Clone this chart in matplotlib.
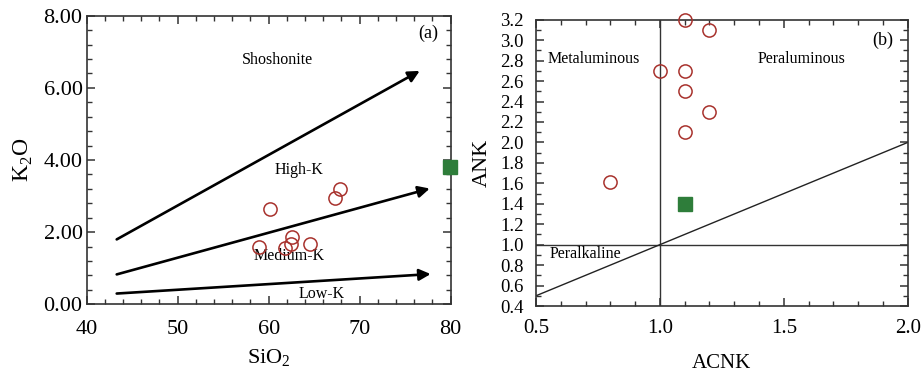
import numpy as np
import matplotlib
matplotlib.use("Agg")
import matplotlib.pyplot as plt
from matplotlib.ticker import MultipleLocator, FormatStrFormatter

plt.rcParams.update({
    "font.family": "Liberation Serif",
    "mathtext.fontset": "custom", "mathtext.rm": "Liberation Serif",
    "xtick.direction": "in", "ytick.direction": "in",
    "xtick.top": True, "ytick.right": True,
})

# ---- panel (a): K2O vs SiO2 ----
sio2 = [60.1, 67.3, 67.8, 58.9, 61.8, 62.4, 62.6, 64.5]
k2o = [2.63, 2.94, 3.20, 1.60, 1.57, 1.66, 1.88, 1.66]
sio2_ref, k2o_ref = [79.9], [3.82]
# series boundaries (start, end)
bound_x = [(43.3, 76.6), (43.3, 77.7), (43.3, 77.8)]
bound_y = [(1.80, 6.47), (0.83, 3.21), (0.30, 0.84)]
labels_a = ["Shoshonite", "High-K", "Medium-K", "Low-K"]
labels_a_xy = [(61.0, 6.77), (63.3, 3.72), (62.3, 1.34), (65.8, 0.30)]

# ---- panel (b): ANK vs ACNK ----
acnk = [1.1, 1.2, 1.0, 1.1, 1.1, 1.2, 1.1, 0.8]
ank = [3.2, 3.1, 2.7, 2.7, 2.5, 2.3, 2.1, 1.61]
acnk_ref, ank_ref = [1.1], [1.40]
labels_b = ["Metaluminous", "Peraluminous", "Peralkaline"]
labels_b_xy = [(0.735, 2.82), (1.57, 2.82), (0.70, 0.91)]

RED = "#A8322D"
GREEN = "#2E7D3A"

fig = plt.figure(figsize=(9.22, 3.73), dpi=100)
ax1 = fig.add_axes([0.094, 0.184, 0.3948, 0.774])
ax2 = fig.add_axes([0.5813, 0.1796, 0.4032, 0.7674])

for ax in (ax1, ax2):
    for s in ax.spines.values():
        s.set_linewidth(1.2)
        s.set_color("#333333")
    ax.tick_params(which="major", length=6, width=1.1, color="#333333")
    ax.tick_params(which="minor", length=3.5, width=1.0, color="#333333")

# panel (a)
for (x0, x1), (y0, y1) in zip(bound_x, bound_y):
    ax1.annotate("", xy=(x1, y1), xytext=(x0, y0),
                 arrowprops=dict(arrowstyle="-|>", color="black", lw=1.9,
                                 mutation_scale=17, shrinkA=0, shrinkB=0))
ax1.plot(sio2, k2o, "o", ms=9.5, mfc="none", mec=RED, mew=1.1, zorder=4)
ax1.plot(sio2_ref, k2o_ref, "s", ms=9.5, color=GREEN, clip_on=False, zorder=5)
for t, (x, y) in zip(labels_a, labels_a_xy):
    ax1.text(x, y, t, ha="center", va="center", fontsize=11.5)
ax1.text(77.5, 7.5, "(a)", ha="center", va="center", fontsize=13)
ax1.set_xlim(40, 80)
ax1.set_ylim(0, 8)
ax1.xaxis.set_major_locator(MultipleLocator(10))
ax1.xaxis.set_minor_locator(MultipleLocator(2))
ax1.yaxis.set_major_locator(MultipleLocator(2))
ax1.yaxis.set_minor_locator(MultipleLocator(0.4))
ax1.yaxis.set_major_formatter(FormatStrFormatter("%.2f"))
ax1.tick_params(labelsize=16)
ax1.tick_params(axis="x", pad=11)
ax1.tick_params(axis="y", pad=3)
ax1.set_xlabel("SiO$_2$", fontsize=16, labelpad=6)
ax1.set_ylabel("K$_2$O", fontsize=17, labelpad=6)

# panel (b)
ax2.axvline(1.0, color="#333333", lw=1.0)
ax2.axhline(1.0, color="#333333", lw=1.0)
ax2.plot([0.5, 2.0], [0.5, 2.0], color="#222222", lw=1.0)
ax2.plot(acnk, ank, "o", ms=9.5, mfc="none", mec=RED, mew=1.1, clip_on=False, zorder=4)
ax2.plot(acnk_ref, ank_ref, "s", ms=9.5, color=GREEN, zorder=5)
for t, (x, y) in zip(labels_b, labels_b_xy):
    ax2.text(x, y, t, ha="center", va="center", fontsize=11.5)
ax2.text(1.9, 3.0, "(b)", ha="center", va="center", fontsize=13)
ax2.set_xlim(0.5, 2.0)
ax2.set_ylim(0.4, 3.2)
ax2.xaxis.set_major_locator(MultipleLocator(0.5))
ax2.xaxis.set_minor_locator(MultipleLocator(0.1))
ax2.yaxis.set_major_locator(MultipleLocator(0.2))
ax2.yaxis.set_minor_locator(MultipleLocator(0.1))
ax2.xaxis.set_major_formatter(FormatStrFormatter("%.1f"))
ax2.yaxis.set_major_formatter(FormatStrFormatter("%.1f"))
ax2.tick_params(axis="x", labelsize=15, pad=9)
ax2.tick_params(axis="y", labelsize=13.5, pad=9)
ax2.set_xlabel("ACNK", fontsize=15, labelpad=12)
ax2.set_ylabel("ANK", fontsize=16, labelpad=6)

fig.savefig("out.png", dpi=100)
